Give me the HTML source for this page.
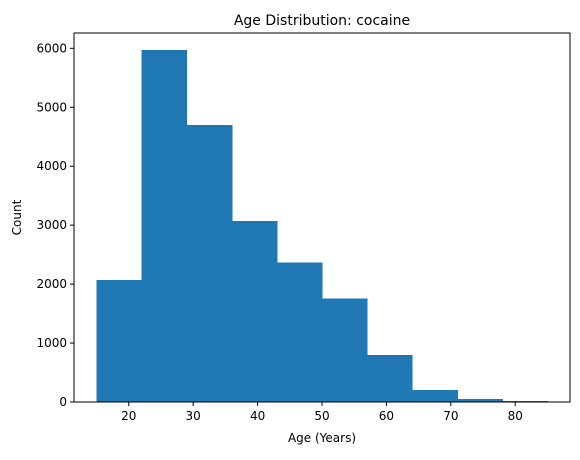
<!DOCTYPE html>
<html><head><meta charset="utf-8"><style>
body{margin:0;background:#fff;}
svg text{font-family:"DejaVu Sans","Liberation Sans",sans-serif;fill:#000;}
</style></head><body>
<svg id="chart" width="580" height="455">
<rect x="0" y="0" width="580" height="455" fill="#fff"/>
<g id="bars" shape-rendering="crispEdges"></g><g id="axes"></g>
</svg>
<script>
const binEdges=[15,22,29,36,43,50,57,64,71,78,85];
const counts=[2070,5970,4700,3070,2370,1760,800,203,50,15];
const xTicks=[20,30,40,50,60,70,80];
const yTicks=[0,1000,2000,3000,4000,5000,6000];
const L=74,R=570,T=33,B=402;
const xMin=11.5,xMax=88.5,yMax=6260;
const sx=v=>L+(v-xMin)/(xMax-xMin)*(R-L);
const sy=v=>B-v/yMax*(B-T);
const NS="http://www.w3.org/2000/svg";
const bars=document.getElementById('bars'),axes=document.getElementById('axes');
function mk(tag,attrs,parent){const e=document.createElementNS(NS,tag);for(const k in attrs)e.setAttribute(k,attrs[k]);parent.appendChild(e);return e;}
counts.forEach((c,i)=>{
 const r=mk('rect',{x:sx(binEdges[i]),y:sy(c),width:sx(binEdges[i+1])-sx(binEdges[i])+0.5,height:B-sy(c),fill:'#1f77b4'},bars);
 
 
});
const frame=mk('rect',{x:L,y:T,width:R-L,height:B-T,fill:'none',stroke:'#000','stroke-width':1},axes);


xTicks.forEach(t=>{
 const x=sx(t);
 mk('line',{x1:x,x2:x,y1:B,y2:B+4,stroke:'#000'},axes);
 const tx=mk('text',{x:x,y:B+18,'text-anchor':'middle','font-size':12},axes);
 tx.textContent=t;
 
 
});
yTicks.forEach(t=>{
 const y=sy(t);
 mk('line',{x1:L-4,x2:L,y1:y,y2:y,stroke:'#000'},axes);
 const tx=mk('text',{x:L-7,y:y+4,'text-anchor':'end','font-size':12},axes);
 tx.textContent=t;
 
 
});
const title=mk('text',{x:(L+R)/2,y:25,'text-anchor':'middle','font-size':14},axes);
title.textContent='Age Distribution: cocaine';


const xl=mk('text',{x:(L+R)/2,y:442,'text-anchor':'middle','font-size':12},axes);
xl.textContent='Age (Years)';


const yl=mk('text',{x:21,y:(T+B)/2,'text-anchor':'middle','font-size':12,transform:'rotate(-90 21 '+(T+B)/2+')'},axes);
yl.textContent='Count';


</script>
</body></html>
